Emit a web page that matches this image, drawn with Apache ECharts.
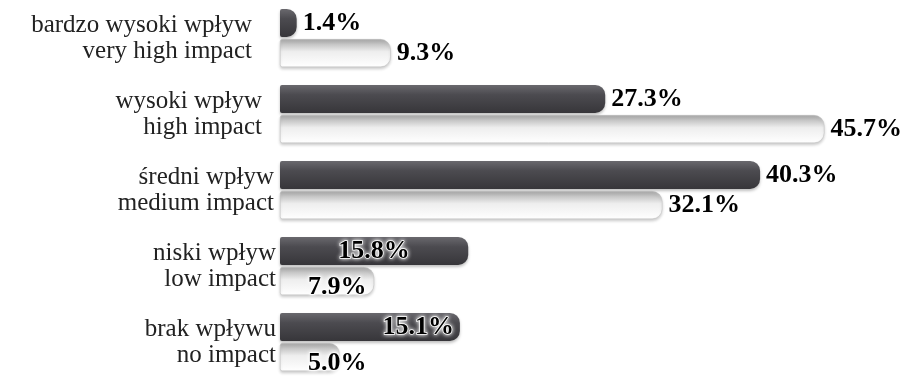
<!DOCTYPE html>
<html>
<head>
<meta charset="utf-8">
<script src="https://cdn.jsdelivr.net/npm/echarts@6/dist/echarts.min.js"></script>
<style>
html,body{margin:0;padding:0;background:#fff;}
#chart{width:908px;height:381px;}
</style>
</head>
<body>
<div id="chart"></div>
<script>
const categories = [
  'bardzo wysoki wpływ\nvery high impact',
  'wysoki wpływ\nhigh impact',
  'średni wpływ\nmedium impact',
  'niski wpływ\nlow impact',
  'brak wpływu\nno impact'
];
const darkValues = [1.4, 27.3, 40.3, 15.8, 15.1];
const lightValues = [9.3, 45.7, 32.1, 7.9, 5.0];

const darkLabelPos = ['right', 'right', 'right', 'inside', 'insideRight'];
const lightLabelPos = ['right', 'right', 'right', 'insideLeft', 'insideLeft'];
const categoryPadRight = [24, 14, 2, 0, 0];

function labelFor(pos) {
  const outlined = pos !== 'right';
  const style = {
    show: true,
    position: pos,
    distance: pos === 'insideLeft' ? 28 : 6,
    offset: pos === 'insideLeft' ? [0, 6] : [0, 0],
    formatter: p => p.value.toFixed(1) + '%',
    fontFamily: 'Liberation Serif',
    fontWeight: 'bold',
    fontSize: 26,
    color: '#000',
    textBorderWidth: 0
  };
  if (outlined) {
    style.textBorderColor = '#ffffff';
    style.textBorderWidth = 1.5;
    style.textShadowColor = '#ffffff';
    style.textShadowBlur = 4;
  }
  return style;
}

const darkColor = new echarts.graphic.LinearGradient(0, 0, 0, 1, [
  {offset: 0, color: '#6a696e'},
  {offset: 0.35, color: '#4c4b50'},
  {offset: 1, color: '#37363a'}
]);
const lightColor = new echarts.graphic.LinearGradient(0, 0, 0, 1, [
  {offset: 0, color: '#a9a9a9'},
  {offset: 0.45, color: '#eeeeee'},
  {offset: 1, color: '#ffffff'}
]);

const chart = echarts.init(document.getElementById('chart'));
chart.setOption({
  animation: false,
  backgroundColor: '#fff',
  grid: {left: 280, right: 80, top: 0, bottom: 1},
  xAxis: {
    type: 'value', min: 0, max: 46, show: false
  },
  yAxis: {
    type: 'category',
    inverse: true,
    data: categories.map((c, i) => ({value: c, textStyle: {padding: [0, categoryPadRight[i], 0, 0]}})),
    axisLine: {show: false},
    axisTick: {show: false},
    axisLabel: {
      margin: 4,
      fontFamily: 'Liberation Serif',
      fontSize: 25,
      lineHeight: 26,
      color: '#222',
      align: 'right'
    }
  },
  series: [
    {
      type: 'bar',
      name: 'dark',
      barWidth: 28,
      barGap: '8%',
      itemStyle: {color: darkColor, borderRadius: [2, 10, 10, 2], shadowColor: 'rgba(0,0,0,0.25)', shadowBlur: 3, shadowOffsetY: 2},
      data: darkValues.map((v, i) => ({value: v, label: labelFor(darkLabelPos[i])}))
    },
    {
      type: 'bar',
      name: 'light',
      barWidth: 28,
      barGap: '8%',
      itemStyle: {color: lightColor, borderRadius: [2, 10, 10, 2], borderColor: '#bdbdbd', borderWidth: 0.5, shadowColor: 'rgba(0,0,0,0.2)', shadowBlur: 3, shadowOffsetY: 2},
      data: lightValues.map((v, i) => ({value: v, label: labelFor(lightLabelPos[i])}))
    }
  ]
});
</script>
</body>
</html>
